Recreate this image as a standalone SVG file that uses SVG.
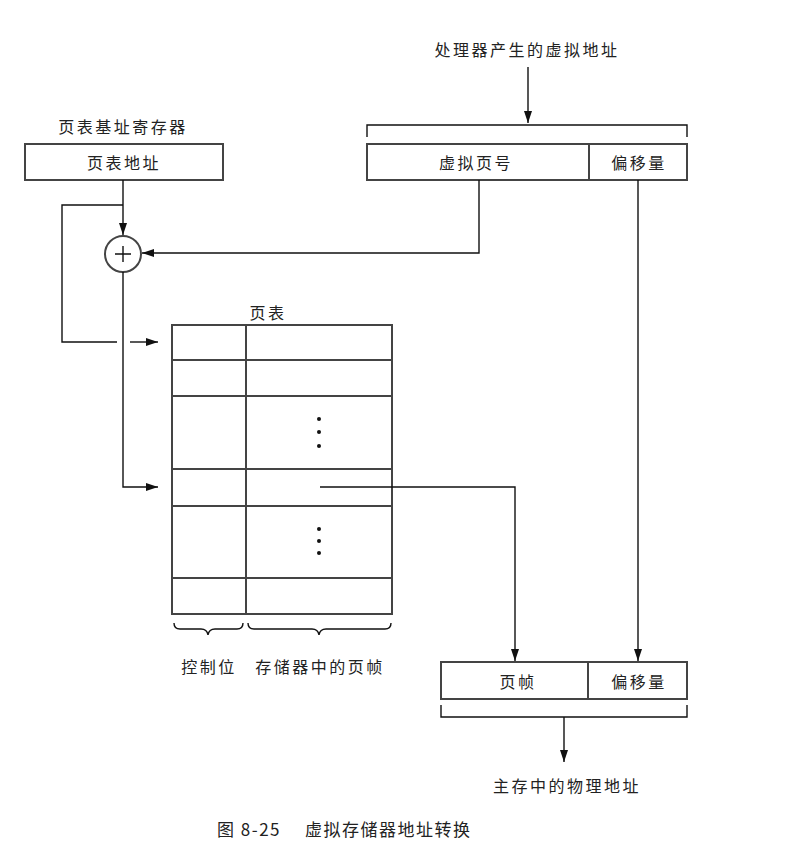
<svg xmlns="http://www.w3.org/2000/svg" width="799" height="842" viewBox="0 0 799 842">
<defs>
<marker id="ah" viewBox="0 0 12 8" refX="12" refY="4" markerWidth="12" markerHeight="8" markerUnits="userSpaceOnUse" orient="auto">
<path d="M0,0 L12,4 L0,8 Z" fill="#111"/>
</marker>
</defs>
<style>
text{font-family:"Noto Sans CJK SC","Liberation Serif",sans-serif;font-size:16px;fill:#222;letter-spacing:2.5px}
.box{fill:none;stroke:#444;stroke-width:2}
.ln{fill:none;stroke:#111;stroke-width:1.4}
.arr{fill:none;stroke:#111;stroke-width:1.4;marker-end:url(#ah)}
.mid{text-anchor:middle}
</style>
<rect width="799" height="842" fill="#fff"/>

<g id="base-register">
<text class="mid" x="123" y="133">页表基址寄存器</text>
<rect class="box" x="25" y="144" width="198" height="36"/>
<text class="mid" x="124" y="169">页表地址</text>
</g>

<g id="virtual-address">
<text class="mid" x="527" y="56">处理器产生的虚拟地址</text>
<path class="ln" d="M367,137 V125 H687 V137"/>
<rect class="box" x="367" y="144" width="320" height="36"/>
<line class="box" x1="589" y1="144" x2="589" y2="180"/>
<text class="mid" x="476" y="169">虚拟页号</text>
<text class="mid" x="639" y="169">偏移量</text>
</g>

<g id="adder">
<circle cx="123" cy="254" r="18" fill="#fff" stroke="#444" stroke-width="2"/>
<path class="ln" d="M115,254 H131 M123,246 V262" stroke-width="1.8"/>
</g>

<g id="page-table">
<text class="mid" x="268" y="319">页表</text>
<rect class="box" x="172" y="325" width="220" height="289"/>
<line class="box" x1="246" y1="325" x2="246" y2="614"/>
<path class="box" d="M172,360 H392 M172,396 H392 M172,469 H392 M172,506 H392 M172,578 H392"/>
<g fill="#111">
<circle cx="319" cy="419" r="2"/><circle cx="319" cy="432" r="2"/><circle cx="319" cy="446" r="2"/>
<circle cx="319" cy="529" r="2"/><circle cx="319" cy="541" r="2"/><circle cx="319" cy="553" r="2"/>
</g>
<path class="ln" d="M174,623 Q174,629 180,629 H201 Q207,629 208,635 Q209,629 215,629 H237 Q243,629 243,623"/>
<path class="ln" d="M248,623 Q248,629 254,629 H312 Q318,629 319,635 Q320,629 326,629 H385 Q391,629 391,623"/>
<text class="mid" x="209" y="673">控制位</text>
<text class="mid" x="320" y="673">存储器中的页帧</text>
</g>

<g id="physical-address">
<rect class="box" x="441" y="662" width="246" height="37"/>
<line class="box" x1="588" y1="662" x2="588" y2="699"/>
<text class="mid" x="518" y="688">页帧</text>
<text class="mid" x="639" y="688">偏移量</text>
<path class="ln" d="M441,705 V717 H687 V705"/>
<text class="mid" x="567" y="792">主存中的物理地址</text>
</g>

<g id="caption">
<text x="217" y="836" style="letter-spacing:1.5px;font-size:17px">图 8-25</text>
<text x="305" y="836" style="letter-spacing:1.5px;font-size:17px">虚拟存储器地址转换</text>
</g>

<g id="connectors">
<line class="arr" x1="528" y1="67" x2="528" y2="123"/>
<line class="arr" x1="123" y1="180" x2="123" y2="235"/>
<path class="ln" d="M123,205 H62 V342 H117"/>
<line class="arr" x1="130" y1="342" x2="158" y2="342"/>
<path class="arr" d="M479,180 V253 H142"/>
<path class="arr" d="M123,272 V487 H158"/>
<path class="arr" d="M320,487 H515 V661"/>
<line class="arr" x1="638" y1="180" x2="638" y2="661"/>
<line class="arr" x1="564" y1="717" x2="564" y2="762"/>
</g>
</svg>
